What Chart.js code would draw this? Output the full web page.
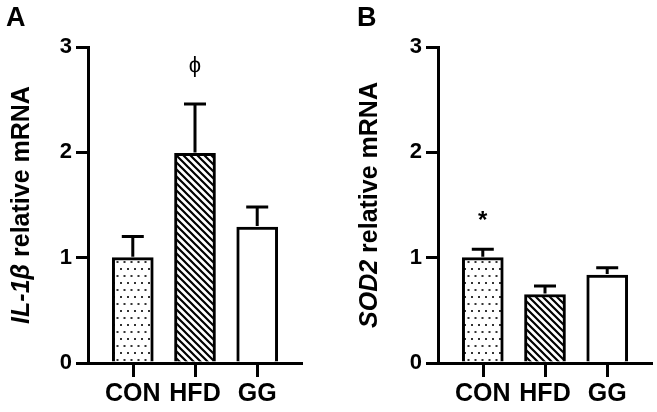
<!DOCTYPE html>
<html>
<head>
<meta charset="utf-8">
<script src="https://cdn.jsdelivr.net/npm/chart.js@4"></script>
<style>
  body { margin: 0; background: #fff; }
  #wrap { position: relative; width: 657px; height: 412px; background: #fff; }
  .panel { position: absolute; top: 0; height: 412px; }
  #pa { left: 0; width: 330px; }
  #pb { left: 330px; width: 327px; }
</style>
</head>
<body>
<div id="wrap">
  <div class="panel" id="pa"><canvas id="chartA"></canvas></div>
  <div class="panel" id="pb"><canvas id="chartB"></canvas></div>
</div>
<script>
// groups and values
const groups = ["CON", "HFD", "GG"];
const yTicks = [0, 1, 2, 3];

const il1bMean = [1.0, 1.99, 1.29];
const il1bErr = [0.20, 0.47, 0.19];
const il1bMarks = ["", "ϕ", ""];

const sod2Mean = [1.0, 0.65, 0.835];
const sod2Err = [0.08, 0.08, 0.07];
const sod2Marks = ["*", "", ""];

function dotPattern() {
  const c = document.createElement("canvas");
  c.width = 7; c.height = 14;
  const g = c.getContext("2d");
  g.fillStyle = "#fff";
  g.fillRect(0, 0, 7, 14);
  g.fillStyle = "#333";
  g.fillRect(1, 2, 2, 2);
  g.fillRect(4.5, 9, 2, 2);
  return g.createPattern(c, "repeat");
}

function hatchPattern() {
  const s = 7;
  const c = document.createElement("canvas");
  c.width = s; c.height = s;
  const g = c.getContext("2d");
  g.fillStyle = "#fff";
  g.fillRect(0, 0, s, s);
  g.strokeStyle = "#000";
  g.lineWidth = 2.2;
  g.beginPath();
  g.moveTo(-1, -1); g.lineTo(s + 1, s + 1);
  g.moveTo(-1, s - 1); g.lineTo(1, s + 1);
  g.moveTo(s - 1, -1); g.lineTo(s + 1, 1);
  g.stroke();
  return g.createPattern(c, "repeat");
}

const fills = [dotPattern(), hatchPattern(), "#fff"];

// error bars, significance marks, x tick marks, axis title and panel letter
const extras = {
  id: "extras",
  afterDatasetsDraw(chart, args, opts) {
    const ctx = chart.ctx;
    const xs = chart.scales.x, ys = chart.scales.y;
    ctx.save();
    ctx.strokeStyle = "#000";
    ctx.lineWidth = 3;
    opts.mean.forEach((m, i) => {
      const x = xs.getPixelForValue(i);
      const y0 = ys.getPixelForValue(m);
      const y1 = ys.getPixelForValue(m + opts.err[i]);
      ctx.beginPath();
      ctx.moveTo(x, y0 - 1);
      ctx.lineTo(x, y1);
      ctx.moveTo(x - 11, y1);
      ctx.lineTo(x + 11, y1);
      ctx.stroke();
      if (opts.marks[i]) {
        ctx.fillStyle = "#000";
        ctx.textAlign = "center";
        ctx.textBaseline = "middle";
        ctx.font = opts.marks[i] === "*" ? "bold 24px 'Liberation Sans'" : "22px 'Liberation Sans'";
        const yy = opts.marks[i] === "*" ? y1 - 28 : y1 - 38;
        ctx.fillText(opts.marks[i], x, yy);
      }
    });
    ctx.restore();
  },
  afterDraw(chart, args, opts) {
    const ctx = chart.ctx;
    const area = chart.chartArea;
    const xs = chart.scales.x;
    ctx.save();
    ctx.strokeStyle = "#000";
    ctx.lineWidth = 3;
    ctx.beginPath();
    groups.forEach((g, i) => {
      const x = Math.round(xs.getPixelForValue(i)) + 0.5;
      ctx.moveTo(x, area.bottom);
      ctx.lineTo(x, area.bottom + 14);
    });
    ctx.stroke();

    ctx.fillStyle = "#000";
    ctx.textBaseline = "alphabetic";
    ctx.font = "bold 27px 'Liberation Sans'";
    ctx.textAlign = "left";
    ctx.fillText(opts.letter, opts.letterX, 26);

    const f1 = "italic bold 25px 'Liberation Sans'";
    const f2 = "bold 25px 'Liberation Sans'";
    ctx.font = f1;
    const w1 = ctx.measureText(opts.gene).width;
    ctx.font = f2;
    const w2 = ctx.measureText(" relative mRNA").width;
    const cy = (area.top + area.bottom) / 2;
    ctx.translate(opts.titleX, cy);
    ctx.rotate(-Math.PI / 2);
    ctx.textBaseline = "middle";
    ctx.font = f1;
    ctx.fillText(opts.gene, -(w1 + w2) / 2, 0);
    ctx.font = f2;
    ctx.fillText(" relative mRNA", -(w1 + w2) / 2 + w1, 0);
    ctx.restore();
  }
};

function makeChart(id, mean, err, marks, axisX, rightPad, letter, letterX, gene, titleX) {
  return new Chart(document.getElementById(id), {
    type: "bar",
    data: {
      datasets: [{
        data: mean.map((v, i) => ({ x: i, y: v })),
        backgroundColor: fills,
        borderColor: "#000",
        borderWidth: 3,
        barThickness: 41
      }]
    },
    options: {
      responsive: true,
      maintainAspectRatio: false,
      animation: false,
      events: [],
      layout: { padding: { top: 47, right: rightPad, left: 0, bottom: 0 } },
      plugins: {
        legend: { display: false },
        tooltip: { enabled: false },
        extras: { mean, err, marks, letter, letterX, gene, titleX }
      },
      scales: {
        x: {
          type: "linear",
          min: -0.72,
          max: 2.72,
          offset: false,
          afterBuildTicks: (s) => { s.ticks = groups.map((g, i) => ({ value: i })); },
          afterFit: (s) => { s.height = 49; },
          ticks: {
            callback: (v) => groups[v],
            color: "#000",
            padding: 16,
            maxRotation: 0,
            autoSkip: false,
            font: { family: "'Liberation Sans'", size: 25, weight: "bold" }
          },
          grid: { display: false, offset: false, drawTicks: false },
          border: { display: true, color: "#000", width: 3 }
        },
        y: {
          min: 0,
          max: 3,
          afterBuildTicks: (s) => { s.ticks = yTicks.map(v => ({ value: v })); },
          afterFit: (s) => { s.width = axisX; },
          ticks: {
            color: "#000",
            padding: 4,
            font: { family: "'Liberation Sans'", size: 22, weight: "bold" }
          },
          grid: { drawOnChartArea: false, color: "#000", lineWidth: 3, tickLength: 12 },
          border: { display: true, color: "#000", width: 3 }
        }
      }
    },
    plugins: [extras]
  });
}

makeChart("chartA", il1bMean, il1bErr, il1bMarks, 88, 28, "A", 6, "IL-1β", 22);
makeChart("chartB", sod2Mean, sod2Err, sod2Marks, 108, 5, "B", 27, "SOD2", 40);
</script>
</body>
</html>
